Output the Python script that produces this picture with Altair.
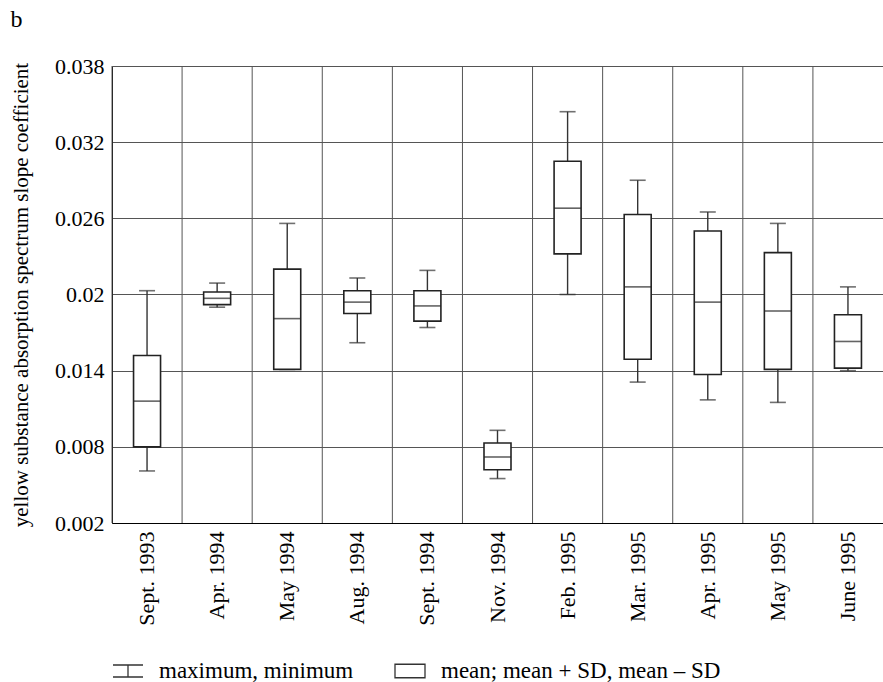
import altair as alt
import pandas as pd

cats = ["Sept. 1993", "Apr. 1994", "May 1994", "Aug. 1994", "Sept. 1994", "Nov. 1994",
        "Feb. 1995", "Mar. 1995", "Apr. 1995", "May 1995", "June 1995"]
max_v = [0.0203, 0.0209, 0.0256, 0.0213, 0.0219, 0.0093, 0.0344, 0.0290, 0.0265, 0.0256, 0.0206]
upper = [0.0152, 0.0202, 0.0220, 0.0203, 0.0203, 0.0083, 0.0305, 0.0263, 0.0250, 0.0233, 0.0184]
mean_v = [0.0116, 0.0197, 0.0181, 0.0194, 0.0191, 0.0072, 0.0268, 0.0206, 0.0194, 0.0187, 0.0163]
lower = [0.0080, 0.0192, 0.0141, 0.0185, 0.0179, 0.0062, 0.0232, 0.0149, 0.0137, 0.0141, 0.0142]
min_v = [0.0061, 0.0190, 0.0141, 0.0162, 0.0174, 0.0055, 0.0200, 0.0131, 0.0117, 0.0115, 0.0140]
y_ticks = [0.002, 0.008, 0.014, 0.02, 0.026, 0.032, 0.038]
legend_labels = ["maximum, minimum", "mean; mean + SD, mean \u2013 SD"]
legend_paths = ["M-1,-0.4H1M0,-0.4V0.4M-1,0.4H1", "M-1,-0.45H1V0.45H-1Z"]

FONT = "Liberation Serif"

df = pd.DataFrame({"cat": cats, "max": max_v, "upper": upper, "mean": mean_v,
                   "lower": lower, "min": min_v})
leg_df = pd.DataFrame({"cat": [cats[0]] * 2, "val": [0.0, 0.0], "kind": legend_labels})

xsc = alt.Scale(domain=cats, paddingInner=0, paddingOuter=0)
ysc = alt.Scale(domain=[0.002, 0.038], nice=False, zero=False)

x_axis = alt.Axis(labelAngle=270, labelAlign="right", labelBaseline="middle",
                  labelPadding=8, ticks=False, grid=False, domainColor="#000",
                  labelFont=FONT, labelFontSize=22, labelColor="#000", labelLimit=300)
y_axis = alt.Axis(values=y_ticks, labelExpr="format(datum.value, '.3~f')",
                  grid=True, gridColor="#555", gridWidth=1, ticks=False,
                  domainColor="#000", labelPadding=8, labelFont=FONT, labelFontSize=22,
                  labelColor="#000", title="yellow substance absorption spectrum slope coefficient",
                  titleFont=FONT, titleFontSize=21, titleFontWeight="normal",
                  titleColor="#000", titlePadding=23)

X = alt.X("cat:N", scale=xsc, sort=cats, title=None, axis=x_axis)

base = alt.Chart(df)

vgrid = base.mark_rule(color="#555", strokeWidth=1).encode(
    x=alt.X("cat:N", scale=xsc, sort=cats, bandPosition=0, title=None, axis=x_axis),
)

whisk = base.mark_rule(color="#333", strokeWidth=1.4).encode(
    x=X, y=alt.Y("min:Q", scale=ysc, axis=y_axis), y2="max:Q")
cap_hi = base.mark_tick(color="#333", size=16, thickness=1.6).encode(
    x=X, y=alt.Y("max:Q", scale=ysc, axis=y_axis))
cap_lo = base.mark_tick(color="#333", size=16, thickness=1.6).encode(
    x=X, y=alt.Y("min:Q", scale=ysc, axis=y_axis))
box = base.mark_bar(size=27, fill="#fff", stroke="#222", strokeWidth=1.6).encode(
    x=X, y=alt.Y("lower:Q", scale=ysc, axis=y_axis), y2="upper:Q")
mean_t = base.mark_tick(color="#222", size=27, thickness=1.6).encode(
    x=X, y=alt.Y("mean:Q", scale=ysc, axis=y_axis))

legend_pts = alt.Chart(leg_df).mark_point(filled=False, color="#333", strokeWidth=1.3,
                                           clip=True, size=900).encode(
    x=X,
    y=alt.Y("val:Q", scale=ysc, axis=y_axis),
    shape=alt.Shape("kind:N", scale=alt.Scale(domain=legend_labels, range=legend_paths),
                    legend=alt.Legend(title=None, orient="none", direction="horizontal",
                                      legendX=0, legendY=589, symbolSize=900,
                                      symbolStrokeWidth=1.3, symbolStrokeColor="#333",
                                      symbolFillColor="transparent", symbolOpacity=1,
                                      labelFont=FONT, labelFontSize=23, labelColor="#000",
                                      labelLimit=500, labelOffset=15, columnPadding=38,
                                      padding=0)),
)

chart = alt.layer(vgrid, whisk, cap_hi, cap_lo, box, mean_t, legend_pts).properties(
    width=771, height=457,
    autosize=alt.AutoSizeParams(type="none"),
    padding={"left": 112, "top": 66, "right": 0, "bottom": 159},
    title=alt.TitleParams("b", anchor="start", frame="bounds", font=FONT, fontSize=24,
                          fontWeight="normal", color="#000", offset=23),
    background="#ffffff",
).configure_view(stroke=None)

chart.save("out.html", embed_options={"renderer": "svg", "actions": False})
